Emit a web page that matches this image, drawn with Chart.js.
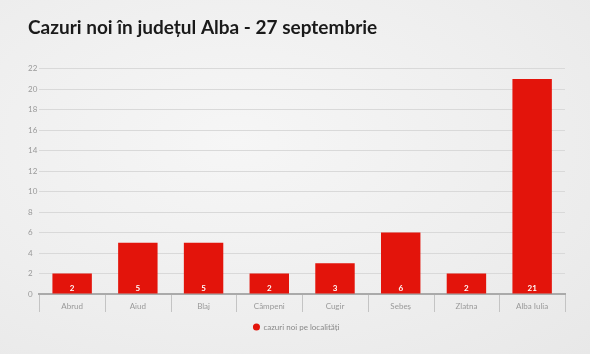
<!DOCTYPE html>
<html>
<head>
<meta charset="utf-8">
<script src="https://cdn.jsdelivr.net/npm/chart.js@4"></script>
<style>
  html, body { margin: 0; padding: 0; }
  body {
    width: 590px; height: 354px; overflow: hidden;
    background: radial-gradient(ellipse at 40% 40%, #f6f6f6 0%, #eeeeee 60%, #e8e8e8 100%);
  }
  #wrap { position: relative; width: 590px; height: 354px; }
</style>
</head>
<body>
<div id="wrap"><canvas id="myChart" width="590" height="354"></canvas></div>
<script>
var localitati = ['Abrud', 'Aiud', 'Blaj', 'Câmpeni', 'Cugir', 'Sebeș', 'Zlatna', 'Alba Iulia'];
var cazuriNoi = [2, 5, 5, 2, 3, 6, 2, 21];
var titlu = 'Cazuri noi în județul Alba - 27 septembrie';
var eticheta = 'cazuri noi pe localități';

// valorile albe de la baza coloanelor + liniutele dintre categorii
var valoriPlugin = {
    id: 'valori',
    afterDraw: function (chart) {
        var ctx = chart.ctx;
        var xs = chart.scales.x;
        var jos = chart.chartArea.bottom;
        ctx.save();
        ctx.strokeStyle = '#c4c4c4';
        ctx.lineWidth = 1;
        for (var k = 0; k <= localitati.length; k++) {
            var px = Math.round(xs.getPixelForValue(k - 0.5)) + 0.5;
            ctx.beginPath();
            ctx.moveTo(px, jos + 1);
            ctx.lineTo(px, jos + 18);
            ctx.stroke();
        }
        var meta = chart.getDatasetMeta(0);
        ctx.fillStyle = '#ffffff';
        ctx.font = 'bold 8px Lato';
        ctx.textAlign = 'center';
        ctx.textBaseline = 'bottom';
        meta.data.forEach(function (bar, i) {
            ctx.fillText(cazuriNoi[i], bar.x, bar.base - 1);
        });
        ctx.restore();
    }
};

const ctx = document.getElementById('myChart');
new Chart(ctx, {
    type: 'bar',
    data: {
        labels: localitati,
        datasets: [
            {
                label: eticheta,
                data: cazuriNoi,
                backgroundColor: '#e3140b',
                borderWidth: 0,
                barPercentage: 0.6,
                categoryPercentage: 1
            }
        ]
    },
    options: {
        responsive: false,
        animation: false,
        layout: { padding: { left: 28, right: 25, top: 0, bottom: 13 } },
        plugins: {
            title: {
                display: true,
                text: titlu,
                align: 'start',
                color: '#1a1a1a',
                font: { family: 'Lato', size: 19, weight: 'bold' },
                padding: { top: 16, bottom: 30 }
            },
            legend: {
                position: 'bottom',
                labels: {
                    usePointStyle: true,
                    pointStyle: 'circle',
                    boxWidth: 6,
                    boxHeight: 5,
                    color: '#888',
                    font: { family: 'Lato', size: 8 },
                    padding: 9
                }
            },
            tooltip: { enabled: false }
        },
        scales: {
            x: {
                afterFit: function (scale) { scale.height = 20; },
                grid: { display: false },
                border: { display: true, color: '#aaaaaa', width: 2 },
                ticks: {
                    color: '#999',
                    font: { family: 'Lato', size: 8 },
                    padding: 0
                }
            },
            y: {
                min: 0,
                max: 22,
                grid: { color: '#d9d9d9', drawTicks: false },
                border: { display: false },
                ticks: {
                    stepSize: 2,
                    crossAlign: 'far',
                    padding: 1,
                    color: '#999',
                    font: { family: 'Lato', size: 8 }
                }
            }
        }
    },
    plugins: [valoriPlugin]
});
</script>
</body>
</html>
